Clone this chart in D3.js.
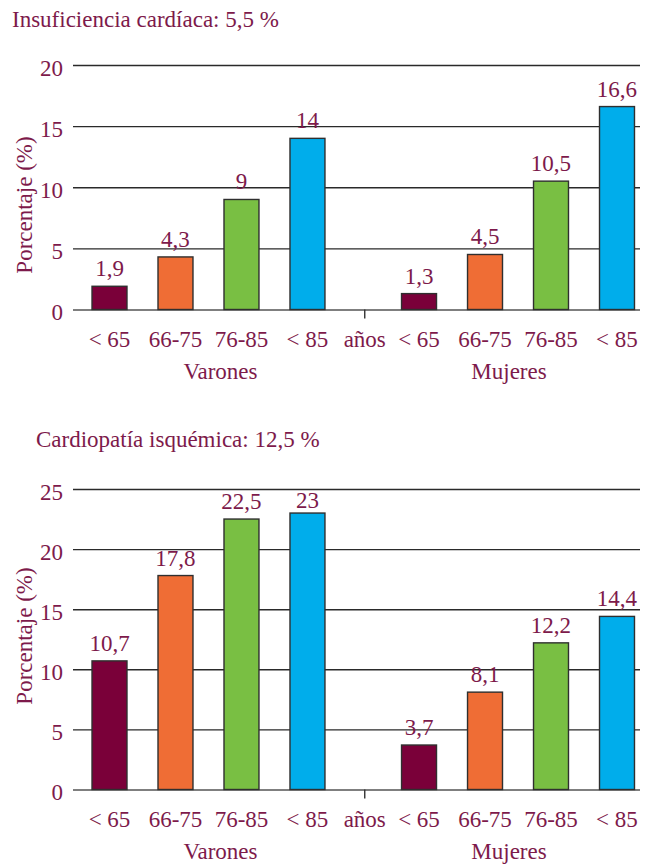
<!DOCTYPE html>
<html>
<head>
    <meta charset="utf-8">
    <title>Insuficiencia cardíaca y cardiopatía isquémica</title>
    <style>
        html, body {
            margin: 0;
            padding: 0;
            background: #fff;
        }
        svg text {
            fill: #7d1a4b;
        }
        .grid line {
            stroke: #2a2a2a;
            stroke-width: 1.4px;
        }
        .grid text {
            font-size: 23px;
        }
    </style>
    <script src="https://d3js.org/d3.v7.min.js"></script>
</head>
<body>
    <svg id="chart"></svg>
</body>
<script>
// datos
const groups = ["Varones", "Mujeres"];
const ageGroups = ["< 65", "66-75", "76-85", "< 85"];
const insufVarones = [1.9, 4.3, 9, 14];
const insufMujeres = [1.3, 4.5, 10.5, 16.6];
const isqVarones = [10.7, 17.8, 22.5, 23];
const isqMujeres = [3.7, 8.1, 12.2, 14.4];
const insufTicks = [0, 5, 10, 15, 20];
const isqTicks = [0, 5, 10, 15, 20, 25];
const colors = ["#7a0039", "#ef6d35", "#79bf43", "#00adeb"];

const serif = "'Liberation Serif', 'Times New Roman', serif";
const width = 649, height = 866;
const svg = d3.select("#chart")
    .attr("width", width)
    .attr("height", height)
    .attr("font-family", serif);

// escalas x (las mismas para los dos gráficos)
const x0 = d3.scaleBand().domain(groups).range([61, 665.5]).paddingInner(0.047);
const x1 = d3.scaleBand().domain(ageGroups).range([0, x0.bandwidth()]).padding(0.47);
const midX = (x0("Varones") + x0.bandwidth() + x0("Mujeres")) / 2 + 1.5;
const groupDx = { Varones: 12, Mujeres: -9 };
const fmt = v => String(v).replace(".", ",");

const charts = [
    { title: "Insuficiencia cardíaca: 5,5 %", titleX: 12, titleY: 27,
      top: 65, bottom: 309.5, ticks: insufTicks, ylabelY: 205,
      values: { Varones: insufVarones, Mujeres: insufMujeres } },
    { title: "Cardiopatía isquémica: 12,5 %", titleX: 36, titleY: 447,
      top: 489, bottom: 789.5, ticks: isqTicks, ylabelY: 636,
      values: { Varones: isqVarones, Mujeres: isqMujeres } }
];

charts.forEach(c => {
    const g = svg.append("g");
    const maxV = d3.max(c.ticks);
    const y = d3.scaleLinear().domain([0, maxV]).range([c.bottom, c.top]);

    g.append("text")
        .attr("x", c.titleX)
        .attr("y", c.titleY)
        .attr("font-size", "23px")
        .text(c.title);

    // lineas de cuadricula + eje y
    const grid = g.append("g")
        .attr("class", "grid")
        .attr("transform", "translate(73,0)")
        .call(d3.axisLeft(y).tickValues(c.ticks).tickSize(-567).tickPadding(10));
    grid.attr("font-family", serif);
    grid.select(".domain").remove();
    grid.selectAll("text").attr("dy", "0.45em");
    grid.selectAll(".tick line").filter(d => d === 0).style("stroke", "#555");

    g.append("line")
        .attr("x1", midX).attr("x2", midX)
        .attr("y1", y(0)).attr("y2", y(0) + 9)
        .attr("stroke", "#333").attr("stroke-width", 1.4);

    g.append("text")
        .attr("transform", `translate(32,${c.ylabelY}) rotate(-90)`)
        .attr("text-anchor", "middle")
        .attr("font-size", "23px")
        .text("Porcentaje (%)");

    groups.forEach(grp => {
        const data = c.values[grp].map((v, i) => ({ age: ageGroups[i], v: v, color: colors[i] }));
        const gg = g.append("g").attr("transform", `translate(${x0(grp)},0)`);

        gg.selectAll(".bar")
            .data(data)
            .enter()
            .append("rect")
            .attr("class", "bar")
            .attr("x", d => x1(d.age))
            .attr("y", d => y(d.v))
            .attr("width", x1.bandwidth())
            .attr("height", d => y(0) - y(d.v))
            .attr("fill", d => d.color)
            .attr("stroke", "#2f2f2f")
            .attr("stroke-width", 1.4);

        gg.selectAll(".val")
            .data(data)
            .enter()
            .append("text")
            .attr("class", "val")
            .attr("x", d => x1(d.age) + x1.bandwidth() / 2)
            .attr("y", d => Math.max(y(d.v) - 10, y(maxV) + 19))
            .attr("text-anchor", "middle")
            .attr("font-size", "23px")
            .text(d => fmt(d.v));

        gg.selectAll(".age")
            .data(ageGroups)
            .enter()
            .append("text")
            .attr("class", "age")
            .attr("x", d => x1(d) + x1.bandwidth() / 2)
            .attr("y", y(0) + 37)
            .attr("text-anchor", "middle")
            .attr("font-size", "23px")
            .text(d => d);

        g.append("text")
            .attr("x", x0(grp) + x0.bandwidth() / 2 + groupDx[grp])
            .attr("y", y(0) + 69)
            .attr("text-anchor", "middle")
            .attr("font-size", "23px")
            .text(grp);
    });

    g.append("text")
        .attr("x", midX)
        .attr("y", y(0) + 37)
        .attr("text-anchor", "middle")
        .attr("font-size", "23px")
        .text("años");
});
</script>
</html>
